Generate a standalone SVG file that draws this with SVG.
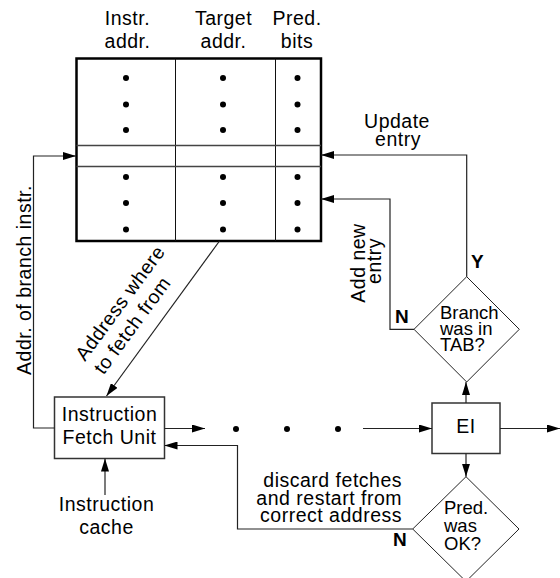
<svg xmlns="http://www.w3.org/2000/svg" width="560" height="578" viewBox="0 0 560 578">
<style>
text{font-family:"Liberation Sans",Arial,Helvetica,sans-serif;fill:#000}
.t{font-size:19.5px;letter-spacing:0.5px}
.d{font-size:18.5px}
.b{font-size:19px;font-weight:bold}
.m{text-anchor:middle}
.e{text-anchor:end}
.c{fill:none;stroke:#222;stroke-width:1.2}
.box{fill:#fff;stroke:#333;stroke-width:1.5}
.thin{stroke:#111;stroke-width:1}
.dot{fill:#000}
</style>
<defs>
<marker id="ah" markerWidth="13" markerHeight="8" refX="13" refY="4" orient="auto" markerUnits="userSpaceOnUse">
<path d="M0,0 L13,4 L0,8 z" fill="#000"/>
</marker>
</defs>

<g id="table">
<text class="t m" x="127.5" y="25">Instr.</text>
<text class="t m" x="127.5" y="48">addr.</text>
<text class="t m" x="223.5" y="25">Target</text>
<text class="t m" x="223.5" y="48">addr.</text>
<text class="t m" x="297" y="25">Pred.</text>
<text class="t m" x="297" y="48">bits</text>
<rect x="76.5" y="58.5" width="244.5" height="182.5" fill="#fff" stroke="#000" stroke-width="2.5"/>
<line class="thin" x1="175.5" y1="58.5" x2="175.5" y2="241"/>
<line class="thin" x1="275.5" y1="58.5" x2="275.5" y2="241"/>
<line x1="76.5" y1="145.5" x2="321" y2="145.5" stroke="#444" stroke-width="1.4"/>
<line x1="76.5" y1="166.5" x2="321" y2="166.5" stroke="#444" stroke-width="1.4"/>
<g class="dot">
<circle cx="126" cy="78" r="3"/><circle cx="126" cy="104.5" r="3"/><circle cx="126" cy="130" r="3"/>
<circle cx="223" cy="78" r="3"/><circle cx="223" cy="104.5" r="3"/><circle cx="223" cy="130" r="3"/>
<circle cx="297.5" cy="78" r="3"/><circle cx="297.5" cy="104.5" r="3"/><circle cx="297.5" cy="130" r="3"/>
<circle cx="126" cy="177" r="3"/><circle cx="126" cy="203" r="3"/><circle cx="126" cy="229.5" r="3"/>
<circle cx="223" cy="177" r="3"/><circle cx="223" cy="203" r="3"/><circle cx="223" cy="229.5" r="3"/>
<circle cx="297.5" cy="177" r="3"/><circle cx="297.5" cy="203" r="3"/><circle cx="297.5" cy="229.5" r="3"/>
</g>
</g>

<g id="ifu">
<rect class="box" x="54.5" y="397" width="110" height="61.5"/>
<text class="t m" x="109.5" y="420.5">Instruction</text>
<text class="t m" x="109.5" y="443.5">Fetch Unit</text>
</g>

<g id="cache">
<text class="t m" x="106.5" y="510.5">Instruction</text>
<text class="t m" x="106.5" y="534">cache</text>
</g>

<g id="ei">
<rect class="box" x="432" y="403" width="68" height="50.5"/>
<text class="t m" x="466" y="433">EI</text>
</g>

<g id="tab-check">
<polygon points="466.7,276.7 519.3,329.3 466.7,382 414,329.3" fill="#fff" stroke="#222" stroke-width="1"/>
<text class="d" x="440" y="318.5">Branch</text>
<text class="d" x="440" y="335">was in</text>
<text class="d" x="440" y="351">TAB?</text>
</g>

<g id="pred-check">
<polygon points="466,476.7 519,529 466,581.4 412.7,529" fill="#fff" stroke="#222" stroke-width="1"/>
<text class="d" x="444" y="514">Pred.</text>
<text class="d" x="444" y="532">was</text>
<text class="d" x="444" y="550">OK?</text>
</g>

<g id="pipeline-dots" class="dot">
<circle cx="236" cy="429" r="3"/>
<circle cx="287" cy="429" r="3"/>
<circle cx="338" cy="429" r="3"/>
</g>

<g id="connectors">
<polyline class="c" points="54.5,428 33.5,428 33.5,156 76,156" marker-end="url(#ah)"/>
<line class="c" x1="219.5" y1="241" x2="106.5" y2="396" marker-end="url(#ah)"/>
<line class="c" x1="164.5" y1="428.5" x2="205" y2="428.5" marker-end="url(#ah)"/>
<line class="c" x1="363" y1="428.5" x2="432" y2="428.5" marker-end="url(#ah)"/>
<line class="c" x1="500" y1="428.5" x2="560" y2="428.5" marker-end="url(#ah)"/>
<line class="c" x1="466" y1="403" x2="466" y2="382" marker-end="url(#ah)"/>
<line class="c" x1="466" y1="453.5" x2="466" y2="476.7" marker-end="url(#ah)"/>
<polyline class="c" points="466.7,276.7 466.7,155 321,155" marker-end="url(#ah)"/>
<polyline class="c" points="414,329.3 390,329.3 390,199 321,199" marker-end="url(#ah)"/>
<polyline class="c" points="412.7,529 237.5,529 237.5,445.5 164.5,445.5" marker-end="url(#ah)"/>
<line class="c" x1="105" y1="495" x2="105" y2="458.5" marker-end="url(#ah)"/>
</g>

<g id="labels">
<text class="t" transform="translate(31,280) rotate(-90)" text-anchor="middle">Addr. of branch instr.</text>
<g transform="translate(85,362) rotate(-53.7)">
<text class="t" x="0" y="0">Address where</text>
<text class="t" x="0" y="23">to fetch from</text>
</g>
<text class="t m" x="397" y="128">Update</text>
<text class="t m" x="398" y="146">entry</text>
<text class="t m" transform="translate(365,263) rotate(-90)">Add new</text>
<text class="t m" transform="translate(381,261) rotate(-90)">entry</text>
<text class="b" x="471" y="267.5">Y</text>
<text class="b" x="395" y="322.5">N</text>
<text class="t e" x="402" y="486.5">discard fetches</text>
<text class="t e" x="402" y="504.5">and restart from</text>
<text class="t e" x="402" y="522">correct address</text>
<text class="b" x="393" y="546">N</text>
</g>
</svg>
